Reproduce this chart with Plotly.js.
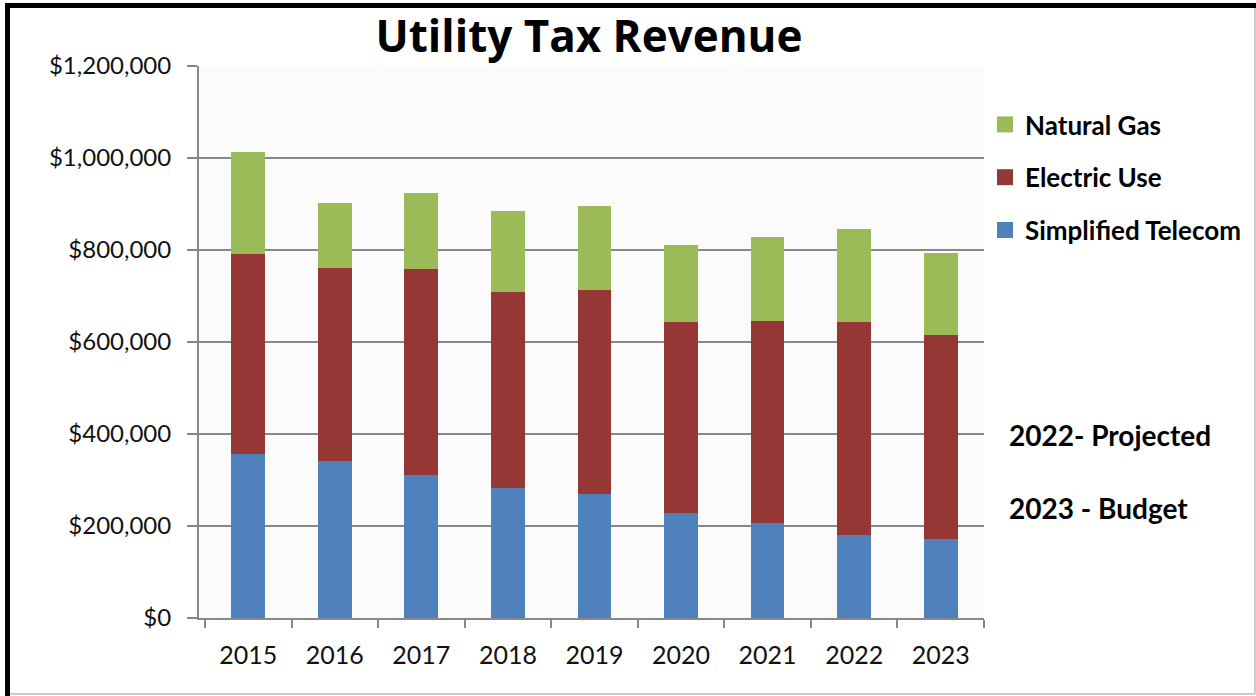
<!DOCTYPE html>
<html>
<head>
<meta charset="utf-8">
<script src="https://cdn.plot.ly/plotly-3.0.1.min.js"></script>
<style>html,body{margin:0;padding:0;background:#fff;}#chart{width:1256px;height:696px;}</style>
</head>
<body>
<div id="chart"></div>
<script>
const years = ['2015','2016','2017','2018','2019','2020','2021','2022','2023'];
const telecom = [356000, 341000, 311000, 283000, 270000, 228000, 207000, 180000, 172000];
const electric = [435000, 420000, 448000, 426000, 443000, 415000, 439000, 463000, 443000];
const naturalGas = [223000, 141000, 165000, 176000, 183000, 168000, 182000, 203000, 179000];
const yTicks = [0, 200000, 400000, 600000, 800000, 1000000, 1200000];
const yTickText = ['$0','$200,000','$400,000','$600,000','$800,000','$1,000,000','$1,200,000'];
const seriesNames = ['Simplified Telecom', 'Electric Use', 'Natural Gas'];
const seriesColors = ['#4F81BD', '#953735', '#9BBB59'];
const notes = ['2022- Projected', '2023 - Budget'];

const font = 'Lato, "Open Sans", "Noto Sans", sans-serif';
const L = 199, R = 272, T = 66, B = 78;
const W = 1256 - L - R, H = 696 - T - B;
const PX = p => (p - L) / W;          // pixel -> paper x
const PY = p => (696 - B - p) / H;    // pixel -> paper y

const values = [telecom, electric, naturalGas];
const bars = values.map((v, i) => ({
  type:'bar', x:years, y:v, name:seriesNames[i], showlegend:false,
  marker:{color:seriesColors[i], line:{width:0}}
}));
// legend entries (square swatches), top entry = top of the stack
const legendItems = values.map((v, i) => ({
  type:'scatter', mode:'markers', x:[years[0]], y:[null], name:seriesNames[i],
  legendgroup:'g'+i, legendrank:values.length - i,
  marker:{symbol:'square', size:16, color:seriesColors[i]}
}));

const layout = {
  width:1256, height:696,
  margin:{l:L, r:R, t:T, b:B, autoexpand:false},
  paper_bgcolor:'#ffffff', plot_bgcolor:'#fbfbfb',
  barmode:'stack', bargap:0.61,
  showlegend:true,
  title:{text:'<b>Utility Tax Revenue</b>', font:{family:'"Open Sans", Lato, sans-serif', size:44, color:'#000'},
         x:PX(589), xanchor:'center', xref:'paper', y:1-37/696, yanchor:'middle'},
  legend:{x:PX(985), xanchor:'left', y:PY(101), yanchor:'top', traceorder:'grouped', tracegroupgap:16,
          font:{family:font, size:26, color:'#000', weight:'bold'}, bgcolor:'rgba(0,0,0,0)', itemwidth:30, borderwidth:0},
  xaxis:{type:'category', tickson:'boundaries', ticks:'outside', ticklen:8, tickcolor:'#888', tickwidth:2,
         showline:true, linecolor:'#888', linewidth:2, showgrid:false, ticklabelstandoff:14,
         tickfont:{family:font, size:25, color:'#111'}, fixedrange:true},
  yaxis:{range:[0,1200000], tickvals:yTicks, ticktext:yTickText, ticks:'outside', ticklen:10, tickcolor:'#888', tickwidth:2,
         showline:true, linecolor:'#888', linewidth:2, showgrid:true, gridcolor:'#888', gridwidth:2, zeroline:false,
         tickfont:{family:font, size:24, color:'#111'}, ticklabelstandoff:11, fixedrange:true},
  annotations:[
    {text:'<b>'+notes[0]+'</b>', xref:'paper', yref:'paper', x:PX(1007), y:PY(435), xanchor:'left', yanchor:'middle', showarrow:false, font:{family:font, size:28, color:'#000'}},
    {text:'<b>'+notes[1]+'</b>', xref:'paper', yref:'paper', x:PX(1007), y:PY(508), xanchor:'left', yanchor:'middle', showarrow:false, font:{family:font, size:28, color:'#000'}}
  ],
  shapes:[
    {type:'line', xref:'paper', yref:'paper', x0:PX(5), x1:PX(1256), y0:PY(5.5), y1:PY(5.5), line:{color:'#000', width:5}},
    {type:'line', xref:'paper', yref:'paper', x0:PX(7.5), x1:PX(7.5), y0:PY(3), y1:PY(696), line:{color:'#000', width:5}},
    {type:'line', xref:'paper', yref:'paper', x0:PX(1255), x1:PX(1255), y0:PY(8), y1:PY(694), line:{color:'#bbb', width:1.5}},
    {type:'line', xref:'paper', yref:'paper', x0:PX(10), x1:PX(1255), y0:PY(694), y1:PY(694), line:{color:'#bbb', width:1.5}}
  ]
};
Plotly.newPlot('chart', bars.concat(legendItems), layout, {displayModeBar:false, staticPlot:true});
</script>
</body>
</html>
